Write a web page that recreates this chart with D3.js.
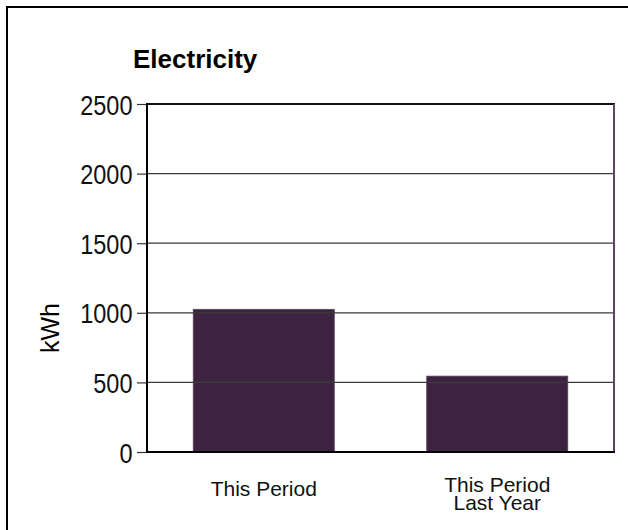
<!DOCTYPE html>
<html>
<head>
<meta charset="utf-8">
<script src="https://cdn.jsdelivr.net/npm/d3@7"></script>
<style>
  body { margin: 0; background: #fff; }
  svg { display: block; }
</style>
</head>
<body>
<svg id="chart"></svg>
<script>
var categories = [["This Period"], ["This Period", "Last Year"]];
var values = [1025, 545];
var yTicks = [0, 500, 1000, 1500, 2000, 2500];

var width = 628, height = 530;
var svg = d3.select("#chart").attr("width", width).attr("height", height);

// outer frame, runs off the right and bottom edges
svg.append("rect")
  .attr("x", 7).attr("y", 7)
  .attr("width", 700).attr("height", 600)
  .style("fill", "none").style("stroke", "#000").style("stroke-width", 2);

var plotLeft = 147, plotRight = 614, plotTop = 104, plotBottom = 452;

var x = d3.scaleBand()
  .domain(d3.range(values.length))
  .range([plotLeft, plotRight])
  .paddingInner(0.396)
  .paddingOuter(0.198);

var y = d3.scaleLinear().domain([0, 2500]).range([plotBottom, plotTop]);

svg.append("text")
  .attr("x", 133).attr("y", 68)
  .style("font-family", "'Liberation Sans', Arial, sans-serif")
  .style("font-weight", "bold")
  .style("font-size", "26px")
  .text("Electricity");

// bars
svg.append("g").selectAll("rect")
  .data(values)
  .enter().append("rect")
  .attr("x", function(d, i) { return x(i); })
  .attr("y", function(d) { return y(d); })
  .attr("width", x.bandwidth())
  .attr("height", function(d) { return y(0) - y(d); })
  .style("fill", "#3e2340")
  .style("stroke", "#5c4260")
  .style("stroke-width", 0.8);

// gridlines over the bars
svg.append("g").selectAll("line")
  .data(yTicks.filter(function(t) { return t > 0 && t < 2500; }))
  .enter().append("line")
  .attr("x1", plotLeft).attr("x2", plotRight)
  .attr("y1", function(d) { return y(d); })
  .attr("y2", function(d) { return y(d); })
  .style("stroke", "#3a3a3a").style("stroke-width", 1.2);

// top and right border of plot
svg.append("line")
  .attr("x1", plotLeft).attr("x2", plotRight + 1).attr("y1", plotTop).attr("y2", plotTop)
  .style("stroke", "#111").style("stroke-width", 2);
svg.append("line")
  .attr("x1", plotRight).attr("x2", plotRight).attr("y1", plotTop).attr("y2", plotBottom)
  .style("stroke", "#5e4362").style("stroke-width", 2);

// y axis
var yAxis = svg.append("g")
  .attr("transform", "translate(" + plotLeft + ",0)")
  .call(d3.axisLeft(y).tickValues(yTicks).tickFormat(d3.format("d")).tickSize(10).tickPadding(4));
yAxis.select(".domain").remove();
yAxis.selectAll(".tick line").style("stroke", "#333").style("stroke-width", 1.2);
// narrow look: squeeze the labels horizontally
var squeeze = 0.84;
yAxis.selectAll(".tick text")
  .attr("x", -14.5 / squeeze)
  .attr("dy", "0.36em")
  .attr("transform", "scale(" + squeeze + ",1)")
  .style("font-family", "'Liberation Sans', Arial, sans-serif")
  .style("font-size", "28px")
  .style("fill", "#111");

svg.append("line")
  .attr("x1", plotLeft).attr("x2", plotLeft).attr("y1", plotTop - 1).attr("y2", plotBottom + 1)
  .style("stroke", "#000").style("stroke-width", 2);
svg.append("line")
  .attr("x1", plotLeft - 1).attr("x2", plotRight + 1).attr("y1", plotBottom).attr("y2", plotBottom)
  .style("stroke", "#000").style("stroke-width", 2);

// y axis title
svg.append("text")
  .attr("transform", "translate(59,328) rotate(-90)")
  .attr("text-anchor", "middle")
  .style("font-family", "'Liberation Sans', Arial, sans-serif")
  .style("font-size", "25px")
  .text("kWh");

// category labels
var labels = svg.append("g").selectAll("text")
  .data(categories)
  .enter().append("text")
  .attr("text-anchor", "middle")
  .attr("x", function(d, i) { return x(i) + x.bandwidth() / 2; })
  .attr("y", function(d) { return d.length > 1 ? 491.5 : 496; })
  .style("font-family", "'Liberation Sans', Arial, sans-serif")
  .style("font-size", "21px")
  .style("fill", "#111");
labels.each(function(d) {
  var t = d3.select(this);
  d.forEach(function(line, k) {
    t.append("tspan")
      .attr("x", t.attr("x"))
      .attr("dy", k === 0 ? 0 : 18.5)
      .text(line);
  });
});
</script>
</body>
</html>
